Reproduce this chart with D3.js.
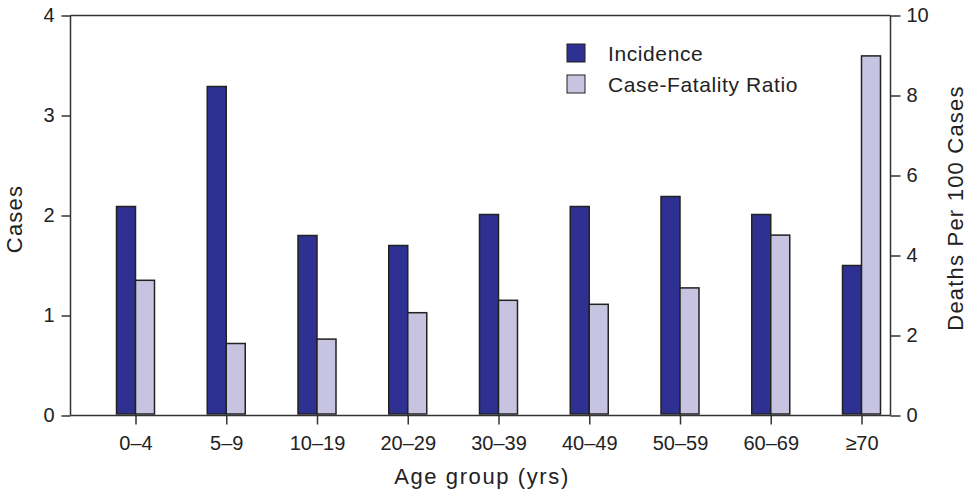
<!DOCTYPE html>
<html>
<head>
<meta charset="utf-8">
<script src="https://cdnjs.cloudflare.com/ajax/libs/d3/7.8.5/d3.min.js"></script>
<style>
  body { margin: 0; background: #fff; }
  text { font-family: "Liberation Sans", Arial, Helvetica, sans-serif; fill: #222; }
</style>
</head>
<body>
<div id="chart"></div>
<script>
// age groups and the two series
var ageGroups = ["0\u20134", "5\u20139", "10\u201319", "20\u201329", "30\u201339", "40\u201349", "50\u201359", "60\u201369", "\u226570"];
var incidence = [2.09, 3.29, 1.80, 1.70, 2.01, 2.09, 2.19, 2.01, 1.50];
var fatality = [3.38, 1.80, 1.91, 2.57, 2.88, 2.78, 3.19, 4.51, 8.99];
var leftTicks = [0, 1, 2, 3, 4];
var rightTicks = [0, 2, 4, 6, 8, 10];

var W = 976, H = 489;
var plot = {left: 70.5, right: 890.5, top: 15.5, bottom: 415.5};
var barW = 19;

var svg = d3.select("#chart").append("svg")
    .attr("width", W)
    .attr("height", H);

var x = d3.scalePoint()
    .domain(ageGroups)
    .range([135.5, 861.5]);

var yL = d3.scaleLinear()
    .domain([0, 4])
    .range([plot.bottom, plot.top]);

var yR = d3.scaleLinear()
    .domain([0, 10])
    .range([plot.bottom, plot.top]);

var rows = ageGroups.map(function(g, i) {
    return {group: g, inc: incidence[i], cfr: fatality[i]};
});

// bars
svg.selectAll(".bar-inc")
    .data(rows)
    .enter()
    .append("rect")
    .attr("class", "bar-inc")
    .attr("x", function(d) { return x(d.group) - barW; })
    .attr("y", function(d) { return yL(d.inc); })
    .attr("width", barW)
    .attr("height", function(d) { return yL(0) - yL(d.inc) - 1.5; })
    .attr("fill", "#2e3192")
    .attr("stroke", "#222")
    .attr("stroke-width", 1.5);

svg.selectAll(".bar-cfr")
    .data(rows)
    .enter()
    .append("rect")
    .attr("class", "bar-cfr")
    .attr("x", function(d) { return x(d.group); })
    .attr("y", function(d) { return yR(d.cfr); })
    .attr("width", barW)
    .attr("height", function(d) { return yR(0) - yR(d.cfr) - 1.5; })
    .attr("fill", "#c6c4e0")
    .attr("stroke", "#222")
    .attr("stroke-width", 1.5);

// frame top line
svg.append("line")
    .attr("x1", plot.left).attr("x2", plot.right)
    .attr("y1", plot.top).attr("y2", plot.top)
    .attr("stroke", "#333")
    .attr("stroke-width", 1.5);

// axes
var yAxisL = d3.axisLeft(yL).tickValues(leftTicks).tickSize(9).tickPadding(7).tickFormat(d3.format("d"));
var yAxisR = d3.axisRight(yR).tickValues(rightTicks).tickSize(10).tickPadding(6).tickFormat(d3.format("d"));
var xAxis = d3.axisBottom(x).tickSize(9).tickPadding(11);

var gL = svg.append("g")
    .attr("transform", "translate(" + plot.left + ",0)")
    .call(yAxisL);

var gR = svg.append("g")
    .attr("transform", "translate(" + plot.right + ",0)")
    .call(yAxisR);

var gX = svg.append("g")
    .attr("transform", "translate(0," + plot.bottom + ")")
    .call(xAxis);

gX.select(".domain").remove();
svg.append("line")
    .attr("x1", plot.left).attr("x2", plot.right)
    .attr("y1", plot.bottom).attr("y2", plot.bottom)
    .attr("stroke", "#333")
    .attr("stroke-width", 1.5);

[gL, gR, gX].forEach(function(g) {
    g.selectAll("path, line").attr("stroke", "#333").attr("stroke-width", 1.5);
    g.selectAll("text")
        .style("font-family", "'Liberation Sans', Arial, sans-serif")
        .style("font-size", "20px")
        .attr("fill", "#222");
});
gL.select(".domain").attr("d", "M0," + plot.top + "V" + plot.bottom);
gR.select(".domain").attr("d", "M0," + plot.top + "V" + plot.bottom);

// axis titles
svg.append("text")
    .attr("transform", "translate(22,219) rotate(-90)")
    .attr("text-anchor", "middle")
    .style("font-size", "22px")
    .style("letter-spacing", "1.2px")
    .text("Cases");

svg.append("text")
    .attr("transform", "translate(963,208) rotate(-90)")
    .attr("text-anchor", "middle")
    .style("font-size", "22px")
    .style("letter-spacing", "1.2px")
    .text("Deaths Per 100 Cases");

svg.append("text")
    .attr("x", 482)
    .attr("y", 484)
    .attr("text-anchor", "middle")
    .style("font-size", "22px")
    .style("letter-spacing", "1.6px")
    .text("Age group (yrs)");

// legend
var legendItems = [
    {label: "Incidence", color: "#2e3192"},
    {label: "Case-Fatality Ratio", color: "#c6c4e0"}
];

var legend = svg.selectAll(".legend")
    .data(legendItems)
    .enter()
    .append("g")
    .attr("class", "legend")
    .attr("transform", function(d, i) { return "translate(567," + (44 + i * 31) + ")"; });

legend.append("rect")
    .attr("width", 18)
    .attr("height", 18)
    .attr("fill", function(d) { return d.color; })
    .attr("stroke", "#222")
    .attr("stroke-width", 1);

legend.append("text")
    .attr("x", 41)
    .attr("y", 17)
    .style("font-size", "21px")
    .style("letter-spacing", "0.6px")
    .text(function(d) { return d.label; });
</script>
</body>
</html>
